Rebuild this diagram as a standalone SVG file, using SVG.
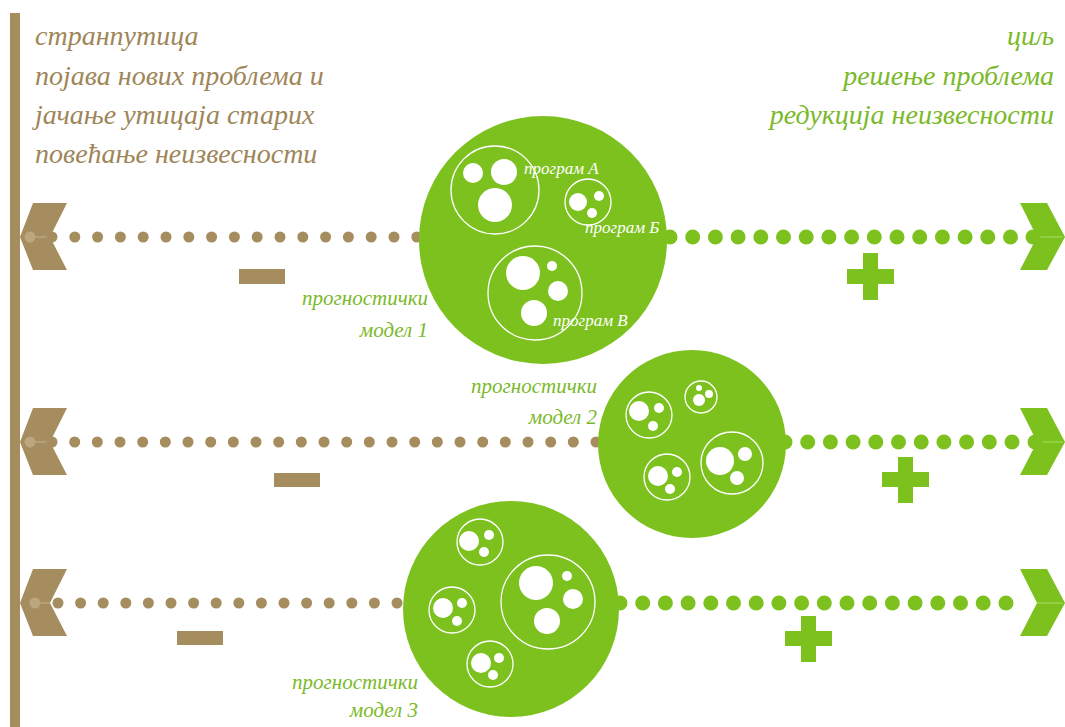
<svg xmlns="http://www.w3.org/2000/svg" width="1065" height="727" viewBox="0 0 1065 727">
<style>
.br{fill:#A68D5F}
.gr{fill:#7DC11F}
.bd{fill:#A68D5F}
.gd{fill:#7DC11F}
.faint{fill:#BBA67E}
.fl{stroke:#BBA67E;stroke-width:1.5}
.gfl{stroke:#9BD34A;stroke-width:1.5}
.w{fill:#fff}
.ring{fill:none;stroke:#fff;stroke-width:1.3}
.t{font-family:"Liberation Serif","DejaVu Serif",serif;font-style:italic}
.tb{fill:#9E8659;font-size:28px}
.tg{fill:#7AB929;font-size:28px}
.lbl{fill:#7AB929;font-size:21px;text-anchor:end}
.pl{fill:#fff;font-size:17px}
</style>
<defs>
<path id="lch" d="M33,-34 L67,-34 L50,0 L67,33 L33,33 L20,0 Z"/>
<path id="rch" d="M1020,-34 L1047,-34 L1065,0 L1047,33 L1020,33 L1037,0 Z"/>
</defs>
<rect id="bar" x="10" y="13" width="10" height="714" class="br"/>
<g id="text-left" class="t tb">
<text x="35" y="45">странпутица</text>
<text x="35" y="85">појава нових проблема и</text>
<text x="35" y="124">јачање утицаја старих</text>
<text x="35" y="163">повећање неизвесности</text>
</g>
<g id="text-right" class="t tg" text-anchor="end">
<text x="1054" y="45">циљ</text>
<text x="1054" y="85">решење проблема</text>
<text x="1054" y="124">редукција неизвесности</text>
</g>
<g id="connectors">
<g id="row1" transform="translate(0,237)">
<use href="#lch" class="br"/>
<line x1="30" y1="0" x2="50" y2="0" class="fl"/>
<circle cx="30" cy="0" r="5.5" class="faint"/>
<use href="#rch" class="gr"/>
<line x1="1037" y1="0" x2="1063" y2="0" class="gfl"/>
<g class="bd">
<circle cx="52" cy="0" r="5.5"/><circle cx="74.8" cy="0" r="5.5"/><circle cx="97.6" cy="0" r="5.5"/><circle cx="120.4" cy="0" r="5.5"/><circle cx="143.2" cy="0" r="5.5"/><circle cx="166" cy="0" r="5.5"/><circle cx="188.8" cy="0" r="5.5"/><circle cx="211.6" cy="0" r="5.5"/><circle cx="234.4" cy="0" r="5.5"/><circle cx="257.2" cy="0" r="5.5"/><circle cx="280" cy="0" r="5.5"/><circle cx="302.8" cy="0" r="5.5"/><circle cx="325.6" cy="0" r="5.5"/><circle cx="348.4" cy="0" r="5.5"/><circle cx="371.2" cy="0" r="5.5"/><circle cx="394" cy="0" r="5.5"/><circle cx="416.8" cy="0" r="5.5"/>
</g>
<g class="gd">
<circle cx="670" cy="0" r="7.5"/><circle cx="692.7" cy="0" r="7.5"/><circle cx="715.4" cy="0" r="7.5"/><circle cx="738.1" cy="0" r="7.5"/><circle cx="760.8" cy="0" r="7.5"/><circle cx="783.5" cy="0" r="7.5"/><circle cx="806.2" cy="0" r="7.5"/><circle cx="828.9" cy="0" r="7.5"/><circle cx="851.6" cy="0" r="7.5"/><circle cx="874.3" cy="0" r="7.5"/><circle cx="897" cy="0" r="7.5"/><circle cx="919.7" cy="0" r="7.5"/><circle cx="942.4" cy="0" r="7.5"/><circle cx="965.1" cy="0" r="7.5"/><circle cx="987.8" cy="0" r="7.5"/><circle cx="1010.5" cy="0" r="7.5"/><circle cx="1033" cy="0" r="7.5"/>
</g>
<rect x="239" y="32" width="46" height="15" class="br"/>
<path d="M863,16 h15 v16 h16 v15 h-16 v16 h-15 v-16 h-16 v-15 h16 Z" class="gr"/>
</g>
<g id="row2" transform="translate(0,442)">
<use href="#lch" class="br"/>
<line x1="30" y1="0" x2="50" y2="0" class="fl"/>
<circle cx="30" cy="0" r="5.5" class="faint"/>
<use href="#rch" class="gr"/>
<line x1="1037" y1="0" x2="1063" y2="0" class="gfl"/>
<g class="bd">
<circle cx="52" cy="0" r="5.5"/><circle cx="74.7" cy="0" r="5.5"/><circle cx="97.3" cy="0" r="5.5"/><circle cx="120" cy="0" r="5.5"/><circle cx="142.7" cy="0" r="5.5"/><circle cx="165.3" cy="0" r="5.5"/><circle cx="188" cy="0" r="5.5"/><circle cx="210.7" cy="0" r="5.5"/><circle cx="233.3" cy="0" r="5.5"/><circle cx="256" cy="0" r="5.5"/><circle cx="278.7" cy="0" r="5.5"/><circle cx="301.3" cy="0" r="5.5"/><circle cx="324" cy="0" r="5.5"/><circle cx="346.7" cy="0" r="5.5"/><circle cx="369.3" cy="0" r="5.5"/><circle cx="392" cy="0" r="5.5"/><circle cx="414.7" cy="0" r="5.5"/><circle cx="437.3" cy="0" r="5.5"/><circle cx="460" cy="0" r="5.5"/><circle cx="482.7" cy="0" r="5.5"/><circle cx="505.3" cy="0" r="5.5"/><circle cx="528" cy="0" r="5.5"/><circle cx="550.7" cy="0" r="5.5"/><circle cx="573.3" cy="0" r="5.5"/><circle cx="596" cy="0" r="5.5"/>
</g>
<g class="gd">
<circle cx="785" cy="0" r="7.5"/><circle cx="807.7" cy="0" r="7.5"/><circle cx="830.4" cy="0" r="7.5"/><circle cx="853.1" cy="0" r="7.5"/><circle cx="875.8" cy="0" r="7.5"/><circle cx="898.5" cy="0" r="7.5"/><circle cx="921.2" cy="0" r="7.5"/><circle cx="943.9" cy="0" r="7.5"/><circle cx="966.6" cy="0" r="7.5"/><circle cx="989.3" cy="0" r="7.5"/><circle cx="1012" cy="0" r="7.5"/><circle cx="1035" cy="0" r="7.5"/>
</g>
<rect x="274" y="31" width="46" height="14" class="br"/>
<path d="M898,15 h15 v15 h16 v15 h-16 v16 h-15 v-16 h-16 v-15 h16 Z" class="gr"/>
</g>
<g id="row3" transform="translate(0,603)">
<use href="#lch" class="br"/>
<line x1="35" y1="0" x2="50" y2="0" class="fl"/>
<circle cx="35" cy="0" r="5.5" class="faint"/>
<use href="#rch" class="gr"/>
<line x1="1037" y1="0" x2="1063" y2="0" class="gfl"/>
<g class="bd">
<circle cx="58" cy="0" r="5.5"/><circle cx="80.6" cy="0" r="5.5"/><circle cx="103.2" cy="0" r="5.5"/><circle cx="125.8" cy="0" r="5.5"/><circle cx="148.4" cy="0" r="5.5"/><circle cx="171" cy="0" r="5.5"/><circle cx="193.6" cy="0" r="5.5"/><circle cx="216.2" cy="0" r="5.5"/><circle cx="238.8" cy="0" r="5.5"/><circle cx="261.4" cy="0" r="5.5"/><circle cx="284" cy="0" r="5.5"/><circle cx="306.6" cy="0" r="5.5"/><circle cx="329.2" cy="0" r="5.5"/><circle cx="351.8" cy="0" r="5.5"/><circle cx="374.4" cy="0" r="5.5"/><circle cx="397" cy="0" r="5.5"/>
</g>
<g class="gd">
<circle cx="620" cy="0" r="7.5"/><circle cx="642.7" cy="0" r="7.5"/><circle cx="665.4" cy="0" r="7.5"/><circle cx="688.1" cy="0" r="7.5"/><circle cx="710.8" cy="0" r="7.5"/><circle cx="733.5" cy="0" r="7.5"/><circle cx="756.2" cy="0" r="7.5"/><circle cx="778.9" cy="0" r="7.5"/><circle cx="801.6" cy="0" r="7.5"/><circle cx="824.3" cy="0" r="7.5"/><circle cx="847" cy="0" r="7.5"/><circle cx="869.7" cy="0" r="7.5"/><circle cx="892.4" cy="0" r="7.5"/><circle cx="915.1" cy="0" r="7.5"/><circle cx="937.8" cy="0" r="7.5"/><circle cx="960.5" cy="0" r="7.5"/><circle cx="983.2" cy="0" r="7.5"/><circle cx="1006" cy="0" r="7.5"/>
</g>
<rect x="177" y="28" width="46" height="14" class="br"/>
<path d="M801,13 h15 v15 h16 v15 h-16 v16 h-15 v-16 h-16 v-15 h16 Z" class="gr"/>
</g>
</g>
<g id="model1">
<circle cx="543" cy="240" r="124" class="gr"/>
<circle cx="495" cy="190" r="44" class="ring"/>
<circle cx="473" cy="173" r="10" class="w"/><circle cx="504" cy="172" r="13" class="w"/><circle cx="495" cy="205" r="17" class="w"/>
<circle cx="588" cy="202" r="23" class="ring"/>
<circle cx="578" cy="202" r="9" class="w"/><circle cx="599" cy="196" r="5" class="w"/><circle cx="592" cy="213" r="5" class="w"/>
<circle cx="535" cy="293" r="47" class="ring"/>
<circle cx="523" cy="273" r="17" class="w"/><circle cx="552" cy="266" r="5" class="w"/><circle cx="558" cy="291" r="10" class="w"/><circle cx="534" cy="313" r="13" class="w"/>
<g class="t pl">
<text x="524" y="174">програм А</text>
<text x="585" y="233">програм Б</text>
<text x="553" y="326">програм В</text>
</g>
<g class="t lbl">
<text x="428" y="305">прогностички</text>
<text x="428" y="337">модел 1</text>
</g>
</g>
<g id="model2">
<circle cx="692" cy="444" r="94" class="gr"/>
<circle cx="649" cy="415" r="23" class="ring"/>
<circle cx="639" cy="411" r="10" class="w"/><circle cx="659" cy="408" r="5" class="w"/><circle cx="653" cy="426" r="5" class="w"/>
<circle cx="701" cy="397" r="16" class="ring"/>
<circle cx="699" cy="400" r="6" class="w"/><circle cx="709" cy="394" r="4" class="w"/><circle cx="699" cy="388" r="3" class="w"/>
<circle cx="667" cy="477" r="23" class="ring"/>
<circle cx="658" cy="476" r="10" class="w"/><circle cx="677" cy="472" r="5" class="w"/><circle cx="670" cy="489" r="5" class="w"/>
<circle cx="732" cy="463" r="31" class="ring"/>
<circle cx="720" cy="461" r="14" class="w"/><circle cx="745" cy="454" r="7" class="w"/><circle cx="737" cy="478" r="7" class="w"/>
<g class="t lbl">
<text x="597" y="393">прогностички</text>
<text x="597" y="424">модел 2</text>
</g>
</g>
<g id="model3">
<circle cx="511" cy="609" r="108" class="gr"/>
<circle cx="480" cy="542" r="23" class="ring"/>
<circle cx="469" cy="541" r="10" class="w"/><circle cx="489" cy="535" r="5" class="w"/><circle cx="484" cy="552" r="5" class="w"/>
<circle cx="452" cy="610" r="23" class="ring"/>
<circle cx="443" cy="608" r="10" class="w"/><circle cx="462" cy="603" r="5" class="w"/><circle cx="457" cy="621" r="5" class="w"/>
<circle cx="490" cy="664" r="23" class="ring"/>
<circle cx="481" cy="663" r="10" class="w"/><circle cx="499" cy="658" r="5" class="w"/><circle cx="493" cy="675" r="5" class="w"/>
<circle cx="548" cy="602" r="47" class="ring"/>
<circle cx="536" cy="583" r="17" class="w"/><circle cx="567" cy="576" r="5" class="w"/><circle cx="573" cy="599" r="10" class="w"/><circle cx="547" cy="621" r="13" class="w"/>
<g class="t lbl">
<text x="418" y="689">прогностички</text>
<text x="418" y="717">модел 3</text>
</g>
</g>
</svg>
